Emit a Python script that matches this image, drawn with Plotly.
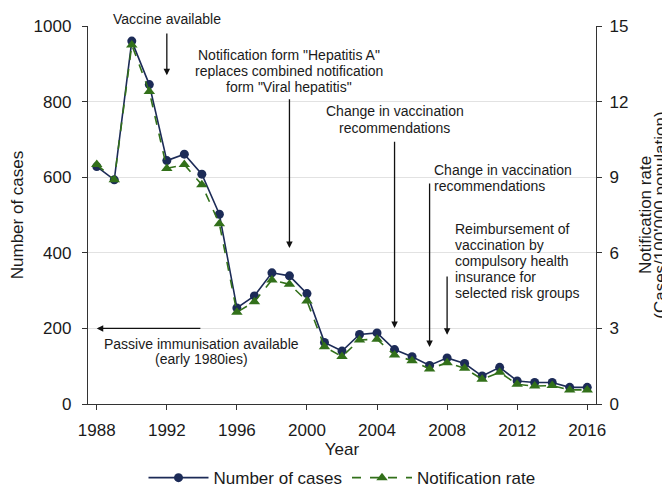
import plotly.graph_objects as go

years = list(range(1988, 2017))
cases = [628, 593, 960, 845, 644, 661, 608, 502, 254, 286, 347, 339, 292, 163,
         140, 184, 188, 144, 125, 102, 122, 107, 74, 97, 61, 57, 57, 44, 44]
rate = [9.5, 8.9, 14.25, 12.4, 9.35, 9.5, 8.7, 7.15, 3.64, 4.06, 4.92, 4.75, 4.09, 2.27,
        1.88, 2.54, 2.57, 1.94, 1.72, 1.39, 1.64, 1.42, 0.98, 1.26, 0.78, 0.71, 0.73, 0.56, 0.56]

x_ticks = list(range(1988, 2017, 4))
y1_ticks = [0, 200, 400, 600, 800, 1000]
y2_ticks = [0, 3, 6, 9, 12, 15]

event_vaccine = ["Vaccine available"]
event_form = ['Notification form "Hepatitis A"', 'replaces combined notification',
              'form "Viral hepatitis"']
event_change1 = ["Change in vaccination", "recommendations"]
event_change2 = ["Change in vaccination", "recommendations"]
event_reimb = ["Reimbursement of", "vaccination by", "compulsory health",
               "insurance for", "selected risk groups"]
event_passive = ["Passive immunisation available", "(early 1980ies)"]
y2_title = ["Notification rate", "(Cases/100'000 population)"]

NAVY = "#1c2b57"
GREEN = "#32701a"
FONT = "Liberation Sans, Arial, sans-serif"
TXT = "#1a1a1a"

fig = go.Figure()
fig.add_trace(go.Scatter(x=years, y=cases, name="Number of cases", mode="lines+markers",
                         line=dict(color=NAVY, width=1.6),
                         marker=dict(symbol="circle", size=9, color=NAVY),
                         yaxis="y", cliponaxis=False))
fig.add_trace(go.Scatter(x=years, y=rate, name="Notification rate", mode="lines+markers",
                         line=dict(color=GREEN, width=1.6, dash="dash"),
                         marker=dict(symbol="triangle-up", size=10, color=GREEN),
                         yaxis="y2", cliponaxis=False))

ann = []
def add_lines(lines, x, y_list, align="center", xref="x", yref="y"):
    for t, yy in zip(lines, y_list):
        ann.append(dict(x=x, y=yy, xref=xref, yref=yref, text=t, showarrow=False,
                        xanchor=align, yanchor="middle", borderpad=0,
                        font=dict(family=FONT, size=14, color=TXT)))

def add_arrow(x, y, ax, ay):
    ann.append(dict(x=x, y=y, ax=ax, ay=ay, xref="x", yref="y", axref="x", ayref="y",
                    text="", showarrow=True, arrowhead=2, arrowsize=1.0,
                    arrowwidth=1.3, arrowcolor="#111"))

add_lines(event_vaccine, (1992 - 1987.5) / 29, [1.0185], xref="paper", yref="paper")
add_arrow(1992, 870, 1992, 984)
add_lines(event_form, 1999, [923, 881, 839])
add_arrow(1999, 413, 1999, 810)
add_lines(event_change1, 2005, [774, 731])
add_arrow(2005, 201, 2005, 698)
add_lines(event_change2, 2007.22, [620, 578], align="left")
add_arrow(2007, 151, 2007, 587)
add_lines(event_reimb, 2008.42, [463, 421, 378, 336, 294], align="left")
add_arrow(2008, 183, 2008, 341)
add_lines(event_passive, 1994, [160, 118])
add_arrow(1988, 200, 1994, 200)

for t, xp in zip(y2_title, [1.0965, 1.1255]):
    ann.append(dict(x=xp, y=0.5, xref="paper", yref="paper", text=t, showarrow=False,
                    textangle=-90, xanchor="center", yanchor="middle", borderpad=0,
                    font=dict(family=FONT, size=17, color=TXT)))

axis_common = dict(showline=True, linecolor="#333", linewidth=1.3, ticks="outside",
                   ticklen=5, tickwidth=1.2, tickcolor="#333",
                   tickfont=dict(family=FONT, size=17, color=TXT))

fig.update_layout(
    width=662, height=480,
    margin=dict(l=80, r=74, t=18, b=84, autoexpand=False),
    plot_bgcolor="white", paper_bgcolor="white",
    showlegend=True,
    legend=dict(orientation="h", x=0.5, xanchor="center", y=-0.196, yanchor="middle",
                font=dict(family=FONT, size=17, color=TXT), itemwidth=60,
                traceorder="normal"),
    xaxis=dict(range=[1987.5, 2016.5], tickvals=x_ticks, showgrid=False, zeroline=False,
               ticklabelstandoff=5,
               title=dict(text="Year", font=dict(family=FONT, size=17, color=TXT), standoff=4),
               **axis_common),
    yaxis=dict(range=[0, 1000], tickvals=y1_ticks, showgrid=True, gridcolor="#e2e2e2",
               gridwidth=1, zeroline=False, ticklabelstandoff=7,
               title=dict(text="Number of cases", font=dict(family=FONT, size=17, color=TXT),
                          standoff=14),
               **axis_common),
    yaxis2=dict(range=[0, 15], tickvals=y2_ticks, overlaying="y", side="right",
                showgrid=False, zeroline=False, ticklabelstandoff=4,
                **axis_common),
    annotations=ann,
    font=dict(family=FONT),
)

fig.write_html("out.html")
